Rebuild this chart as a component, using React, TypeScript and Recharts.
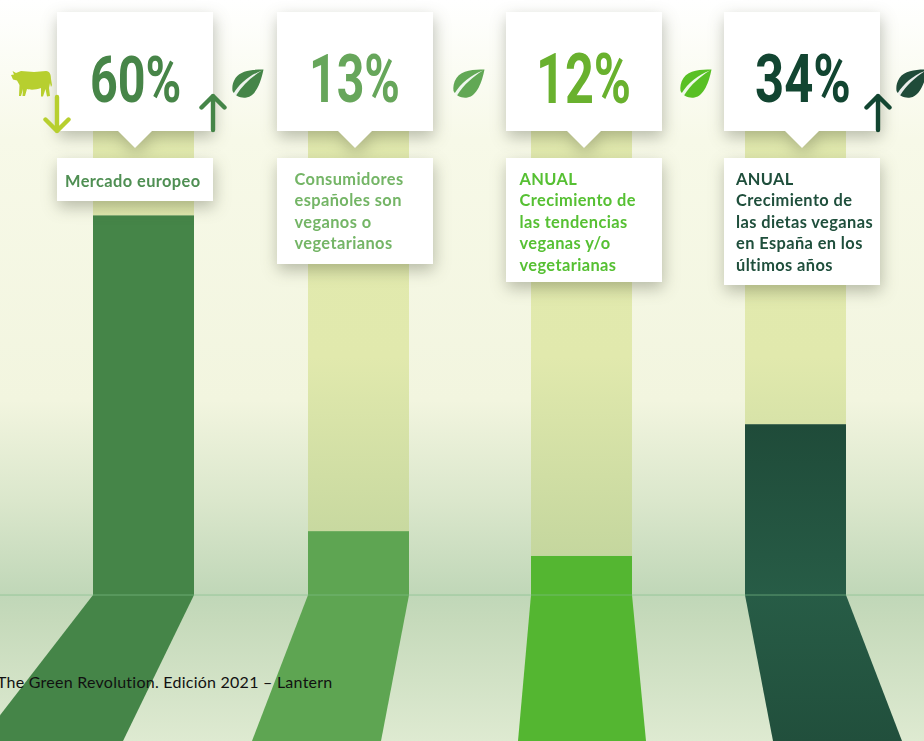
import { Bar, BarChart, ReferenceLine, XAxis, YAxis } from "recharts";

// values (the drawn bars are not proportional to the printed figures)
const categories = ["Mercado europeo", "Consumidores", "Tendencias", "Dietas"];
const barValues = [60, 10.1, 6.2, 27];
const trackTotal = [92.1, 92.1, 92.1, 92.1];
const floorDepth = [-23.06, -23.06, -23.06, -23.06];
const figures = ["60%", "13%", "12%", "34%"];
const captions = [
  ["Mercado europeo"],
  ["Consumidores", "españoles son", "veganos o", "vegetarianos"],
  ["ANUAL", "Crecimiento de", "las tendencias", "veganas y/o", "vegetarianas"],
  ["ANUAL", "Crecimiento de", "las dietas veganas", "en España en los", "últimos años"],
];

const chartData = categories.map((name, i) => ({
  name,
  value: barValues[i],
  rest: trackTotal[i] - barValues[i],
  floor: floorDepth[i],
}));

const WIDTH = 924;
const HEIGHT = 741;
const barFills = ["#458548", "#5ea552", "#54b631", "url(#darkBar)"];
const floorFills = ["#458548", "#5ea552", "#54b631", "url(#darkFloor)"];
const figureColors = ["#478548", "#67a65b", "#69b12e", "#124531"];
const captionColors = ["#4f8f53", "#74b566", "#56c033", "#1f4f3c"];
const barNudge = [0, -4, 0, -5];
const floorFeet = [
  [-113, -71],
  [-56, -28],
  [-13, 14],
  [28, 56],
];
const cardLeft = [57, 277, 506, 724];
const captionHeight = [43, 106, 124, 127];
const leafLeft = [231, 452, 679, 895];
const figureBoxes = [
  { left: 90, top: 46, size: 65, sx: 0.745, weight: 700 },
  { left: 309, top: 46, size: 66, sx: 0.73, weight: 700 },
  { left: 536, top: 45, size: 70, sx: 0.72, weight: 700 },
  { left: 755, top: 46, size: 66, sx: 0.77, weight: 700 },
];

function BarColumn(props: any) {
  const { x, y, width, height, index, fill } = props;
  return <rect x={x + barNudge[index]} y={y} width={width} height={height} fill={fill} />;
}

function FloorShadow(props: any) {
  const { x, y, width, height, index, fill } = props;
  const top = Math.min(y, y + height);
  const bottom = Math.max(y, y + height);
  const left = x + barNudge[index];
  const [footL, footR] = floorFeet[index];
  const pts = [
    [left, top],
    [left + width, top],
    [left + width + footR, bottom],
    [left + footL, bottom],
  ];
  return <polygon points={pts.map((p) => p.join(",")).join(" ")} fill={fill} />;
}

function Leaf({ left, color }: { left: number; color: string }) {
  return (
    <svg width={33} height={30} viewBox="0 0 33 30" style={{ position: "absolute", left, top: 69 }}>
      <path
        d="M32.5 0.5 C22 0.5 10 1 4.5 9 C1.5 13.5 1 18 1.5 22 C4 27 10 29.5 15.5 28.5 C25 27 30 13 32.5 0.5 Z"
        fill={color}
      />
      <path d="M2.5 24.5 C9 14 19 6 31 1.5 C21 7.5 12 15.5 5 26.5 Z" fill="#ffffff" opacity={0.9} />
    </svg>
  );
}

function Arrow({ left, top, color, down }: { left: number; top: number; color: string; down?: boolean }) {
  return (
    <svg
      width={28}
      height={40}
      viewBox="0 0 28 40"
      style={{ position: "absolute", left, top, transform: down ? "scaleY(-1)" : undefined }}
    >
      <path
        d="M14 37 L14 3 M2.5 14.5 L14 3 L25.5 14.5"
        fill="none"
        stroke={color}
        strokeWidth={4.4}
        strokeLinecap="round"
        strokeLinejoin="round"
      />
    </svg>
  );
}

function Cow() {
  return (
    <svg width={43} height={28} viewBox="0 0 43 28" style={{ position: "absolute", left: 10, top: 70 }}>
      <path
        d="M1 5 L4 4.5 L2.5 1 L6 3 L11 1 L24 2 L36 1 C40 1 41 5 41 9 L42 15 L41 17 L40 13 L39 18 L40 26 L37 26.5 L35.5 19 L33 26.5 L31 26.5 L31 18 C26 20 20 20 17 19 L15 26 L12.5 26 L13 19 L11 26 L9 26 L9.5 15 L7 10.5 L3 9.5 Z"
        fill="#b7cf2f"
      />
    </svg>
  );
}

const cardWrap = { position: "absolute", width: 156, filter: "drop-shadow(1px 6px 8px rgba(50,55,35,0.32))" } as const;

export default function App() {
  return (
    <div
      style={{
        position: "absolute",
        left: 0,
        top: 0,
        width: WIDTH,
        height: HEIGHT,
        overflow: "hidden",
        background:
          "linear-gradient(180deg, #ffffff 0px, #f7f9e8 140px, #f2f5df 400px, #dbe7cc 500px, #c0d7b8 595px, #c6dabb 620px, #deead1 741px)",
      }}
    >
      <BarChart
        width={WIDTH}
        height={HEIGHT}
        data={chartData}
        stackOffset="sign"
        barSize={101}
        margin={{ top: 0, right: 0, bottom: 0, left: 0 }}
      >
        <defs>
          <linearGradient id="track" gradientUnits="userSpaceOnUse" x1="0" y1="0" x2="0" y2="595">
            <stop offset="0%" stopColor="#e3ebb0" />
            <stop offset="60%" stopColor="#e1e9ad" />
            <stop offset="100%" stopColor="#bfd39b" />
          </linearGradient>
          <linearGradient id="darkBar" gradientUnits="userSpaceOnUse" x1="0" y1="424" x2="0" y2="595">
            <stop offset="0%" stopColor="#1f4b39" />
            <stop offset="100%" stopColor="#275c46" />
          </linearGradient>
          <linearGradient id="darkFloor" gradientUnits="userSpaceOnUse" x1="0" y1="595" x2="0" y2="741">
            <stop offset="0%" stopColor="#275c46" />
            <stop offset="100%" stopColor="#214f3c" />
          </linearGradient>
        </defs>
        <XAxis dataKey="name" hide padding={{ left: 34, right: 14 }} />
        <YAxis hide domain={[-23.06, 94]} allowDataOverflow />
        <Bar
          dataKey="value"
          stackId="a"
          isAnimationActive={false}
          shape={(p: any) => <BarColumn {...p} fill={barFills[p.index]} />}
        />
        <Bar
          dataKey="rest"
          stackId="a"
          isAnimationActive={false}
          shape={(p: any) => <BarColumn {...p} fill="url(#track)" />}
        />
        <Bar
          dataKey="floor"
          stackId="a"
          isAnimationActive={false}
          shape={(p: any) => <FloorShadow {...p} fill={floorFills[p.index]} />}
        />
        <ReferenceLine y={0} stroke="#7fbf8a" strokeOpacity={0.65} strokeWidth={1} />
      </BarChart>

      {figures.map((fig, i) => (
        <div key={fig} style={{ ...cardWrap, left: cardLeft[i], top: 12 }}>
          <div style={{ height: 119, background: "#fff" }} />
          <div
            style={{
              width: 36,
              height: 18,
              margin: "-1px auto 0",
              background: "#fff",
              clipPath: "polygon(0 0, 100% 0, 50% 100%)",
            }}
          />
        </div>
      ))}

      {captions.map((lines, i) => (
        <div
          key={categories[i]}
          style={{
            ...cardWrap,
            left: cardLeft[i],
            top: 158,
            height: captionHeight[i],
            background: "#fff",
            boxSizing: "border-box",
            paddingLeft: i === 0 ? 8 : i === 1 ? 17.5 : i === 2 ? 13.5 : 12,
            paddingTop: i === 0 ? 11.5 : 9.5,
            fontFamily: "Lato",
            fontWeight: 700,
            fontSize: 16.4,
            lineHeight: "21.5px",
            letterSpacing: 0.4,
            color: captionColors[i],
            whiteSpace: "nowrap",
          }}
        >
          {lines.map((line) => (
            <div key={line}>{line}</div>
          ))}
        </div>
      ))}

      {figures.map((fig, i) => {
        const b = figureBoxes[i];
        return (
          <div
            key={fig + "-n"}
            style={{
              position: "absolute",
              left: b.left,
              top: b.top,
              fontFamily: "Roboto",
              fontSize: b.size,
              fontWeight: b.weight,
              lineHeight: "68px",
              color: figureColors[i],
              transform: `scaleX(${b.sx})`,
              transformOrigin: "left center",
              whiteSpace: "nowrap",
            }}
          >
            {fig}
          </div>
        );
      })}

      {leafLeft.map((left, i) => (
        <Leaf key={left} left={left} color={["#458548", "#62a855", "#58c024", "#1f4b39"][i]} />
      ))}
      <Cow />
      <Arrow left={43} top={94} color="#b7cf2f" down />
      <Arrow left={199} top={93} color="#458548" />
      <Arrow left={864} top={93} color="#124531" />

      <div
        style={{
          position: "absolute",
          left: -3,
          top: 673,
          fontFamily: "Lato",
          fontSize: 16,
          lineHeight: "18px",
          color: "#111",
          whiteSpace: "nowrap",
          letterSpacing: 0.25,
        }}
      >
        The Green Revolution. Edición 2021 – Lantern
      </div>
    </div>
  );
}
